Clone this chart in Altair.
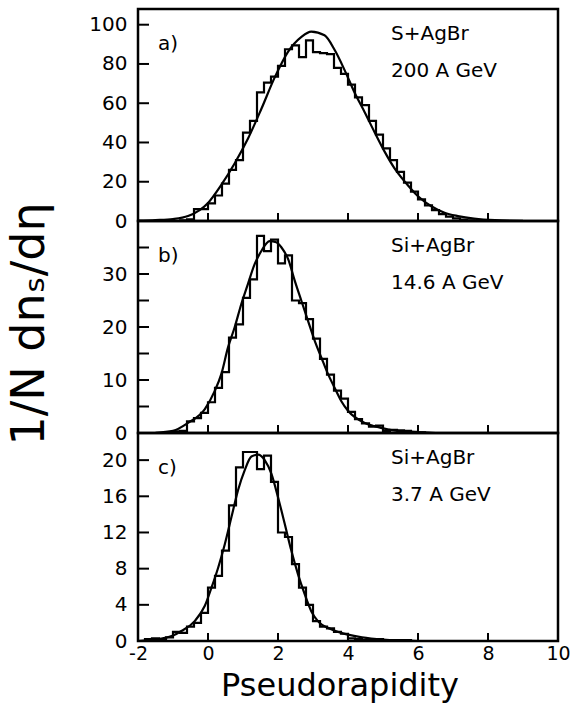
import altair as alt
import pandas as pd

FONT = "DejaVu Sans"
BIN = 0.2

# ---------------- data ----------------
x_labels = [-2, 0, 2, 4, 6, 8, 10]
x_ticks = [0, 2, 4, 6, 8]

# panel a) S+AgBr 200 A GeV
a_bin_start = -1.0
a_hist = [0.0, 0.3, 0.8, 6.0, 6.0, 9.0, 13.0, 19.0, 26.0, 31.0,
          45.0, 51.0, 65.5, 70.5, 73.5, 79.0, 87.5, 89.5, 83.5, 92.0,
          86.0, 85.5, 85.0, 78.0, 75.0, 69.5, 63.0, 59.0, 51.0, 44.0,
          37.0, 31.0, 25.0, 19.5, 15.0, 11.0, 8.0, 5.5, 3.5, 2.2,
          1.3, 0.7, 0.3]
a_curve_eta = [-2.0, -1.5, -1.0, -0.57, 0.0, 0.38, 0.76, 1.14, 1.52, 1.90,
               2.29, 2.67, 2.95, 3.33, 3.62, 3.90, 4.19, 4.48, 4.76, 5.05,
               5.33, 5.62, 6.0, 6.38, 6.76, 7.14, 7.6, 8.2, 9.0]
a_curve_val = [0.2, 0.5, 1.0, 2.5, 9.2, 18.4, 29.3, 41.9, 56.9, 72.9,
               86.3, 93.8, 96.5, 94.6, 87.1, 77.0, 65.3, 55.3, 45.2, 35.2,
               26.8, 20.1, 12.6, 7.5, 4.2, 2.5, 1.2, 0.4, 0.1]
a_ylabels = [0, 20, 40, 60, 80, 100]
a_yticks = [20, 40, 60, 80, 100]

# panel b) Si+AgBr 14.6 A GeV
b_bin_start = -1.0
b_hist = [0.3, 0.4, 2.2, 2.8, 3.8, 5.8, 8.5, 11.5, 18.0, 20.5,
          25.5, 29.0, 37.2, 34.3, 36.5, 32.0, 33.5, 25.0, 24.5, 21.5,
          17.8, 14.0, 11.0, 8.0, 6.5, 4.0, 2.6, 1.8, 1.2, 1.4,
          0.4, 0.6, 0.5, 0.4, 0.2, 0.1]
b_curve_eta = [-1.5, -1.0, -0.57, -0.09, 0.19, 0.38, 0.57, 0.76, 0.95, 1.14,
               1.33, 1.52, 1.76, 1.95, 2.10, 2.29, 2.48, 2.67, 2.86, 3.05,
               3.24, 3.43, 3.62, 3.81, 4.0, 4.48, 4.76, 5.2, 5.8, 6.5]
b_curve_val = [0.05, 0.4, 1.9, 4.5, 7.9, 11.1, 16.1, 19.9, 24.3, 28.1,
               31.8, 34.3, 36.2, 36.0, 35.0, 32.8, 28.7, 24.9, 21.1, 17.4,
               14.2, 11.1, 8.5, 6.0, 4.2, 1.9, 1.3, 0.6, 0.2, 0.0]
b_ylabels = [0, 10, 20, 30]
b_yticks = [5, 10, 15, 20, 25, 30, 35]

# panel c) Si+AgBr 3.7 A GeV
c_bin_start = -2.0
c_hist = [0.0, 0.2, 0.3, 0.2, 0.4, 1.0, 0.9, 1.6, 2.0, 3.1,
          5.9, 7.2, 10.0, 15.0, 19.2, 20.9, 20.9, 19.0, 20.5, 17.6,
          12.0, 11.5, 8.5, 5.9, 4.0, 2.2, 1.6, 1.4, 1.0, 0.8,
          0.3, 0.2, 0.1, 0.1, 0.2, 0.1, 0.1, 0.1, 0.1]
c_curve_eta = [-2.0, -1.5, -1.0, -0.76, -0.38, -0.09, 0.10, 0.29, 0.48, 0.67,
               0.86, 1.05, 1.24, 1.43, 1.62, 1.81, 2.0, 2.19, 2.38, 2.57,
               2.76, 2.95, 3.14, 3.52, 4.0, 4.4, 5.0, 6.0]
c_curve_val = [0.0, 0.15, 0.6, 1.1, 2.2, 3.9, 5.9, 8.1, 10.7, 13.7,
               16.7, 18.9, 20.4, 20.6, 20.0, 18.5, 15.9, 13.0, 10.0, 7.4,
               5.2, 3.3, 2.2, 1.3, 0.7, 0.4, 0.15, 0.0]
c_ylabels = [0, 4, 8, 12, 16, 20]
c_yticks = [4, 8, 12, 16, 20]


def hist_frame(start, vals):
    xs = [round(start + i * BIN, 2) for i in range(len(vals) + 1)]
    ys = list(vals) + [0.0]
    return pd.DataFrame({"eta": xs, "v": ys})


def text_layer(txt, x, y, size=20, align="left", baseline="middle", angle=None):
    kw = dict(font=FONT, fontSize=size, align=align, baseline=baseline, color="black")
    if angle is not None:
        kw["angle"] = angle
    return alt.Chart(pd.DataFrame({"t": [txt]})).mark_text(**kw).encode(
        text="t:N", x=alt.value(x), y=alt.value(y))


def panel(hist, ceta, cval, ymax, h, ylabels, yticks, tag, line1, line2,
          last=False, extra=None):
    xscale = alt.Scale(domain=[-2, 10], nice=False, zero=False)
    yscale = alt.Scale(domain=[0, ymax], nice=False)
    if last:
        xaxis = alt.Axis(values=x_labels, ticks=False, domain=False, grid=False,
                         labelFontSize=19, labelFont=FONT, labelColor="black",
                         labelPadding=3, labelFlush=False, labelOverlap=False,
                         labelExpr="toString(datum.value)", title=None)
    else:
        xaxis = None
    yaxis = alt.Axis(values=ylabels, ticks=False, domain=False, grid=False,
                     labelFontSize=20, labelFont=FONT, labelColor="black",
                     labelPadding=11, labelOverlap=False, title=None)
    X = alt.X("eta:Q", scale=xscale, axis=xaxis)
    Y = alt.Y("v:Q", scale=yscale, axis=yaxis)
    h_layer = alt.Chart(hist).mark_line(
        interpolate="step-after", color="black", strokeWidth=2.2, clip=True
    ).encode(x=X, y=Y)
    curve = pd.DataFrame({"eta": ceta, "v": cval})
    c_layer = alt.Chart(curve).mark_line(
        interpolate="monotone", color="black", strokeWidth=2.2, clip=True
    ).encode(x="eta:Q", y="v:Q")
    yt = alt.Chart(pd.DataFrame({"v": yticks})).mark_rule(
        color="black", strokeWidth=2).encode(y="v:Q", x=alt.value(0), x2=alt.value(11))
    xt = alt.Chart(pd.DataFrame({"eta": x_ticks})).mark_rule(
        color="black", strokeWidth=2).encode(x="eta:Q", y=alt.value(h), y2=alt.value(h - 8))
    layers = [h_layer, c_layer, yt, xt,
              text_layer(tag, 20, 35),
              text_layer(line1, 253, 25),
              text_layer(line2, 253, 62)]
    if extra:
        layers += extra
    return alt.layer(*layers).properties(width=420, height=h)


pa = panel(hist_frame(a_bin_start, a_hist), a_curve_eta, a_curve_val, 108, 212,
           a_ylabels, a_yticks, "a)", "S+AgBr", "200  A  GeV")
pb = panel(hist_frame(b_bin_start, b_hist), b_curve_eta, b_curve_val, 40, 212,
           b_ylabels, b_yticks, "b)", "Si+AgBr", "14.6  A  GeV",
           extra=[text_layer("1/N  dnₛ/dη", -108, 103, size=46, align="center", angle=270)])
pc = panel(hist_frame(c_bin_start, c_hist), c_curve_eta, c_curve_val, 23, 208,
           c_ylabels, c_yticks, "c)", "Si+AgBr", "3.7  A  GeV", last=True,
           extra=[text_layer("Pseudorapidity", 202, 263, size=32, align="center",
                             baseline="alphabetic")])

chart = alt.vconcat(pa, pb, pc, spacing=0, bounds="flush").properties(
    padding={"left": 5, "top": 7, "right": 0, "bottom": 0}
).configure_view(stroke="black", strokeWidth=2.5)

chart.save("out.html", embed_options={"renderer": "svg", "actions": False})
